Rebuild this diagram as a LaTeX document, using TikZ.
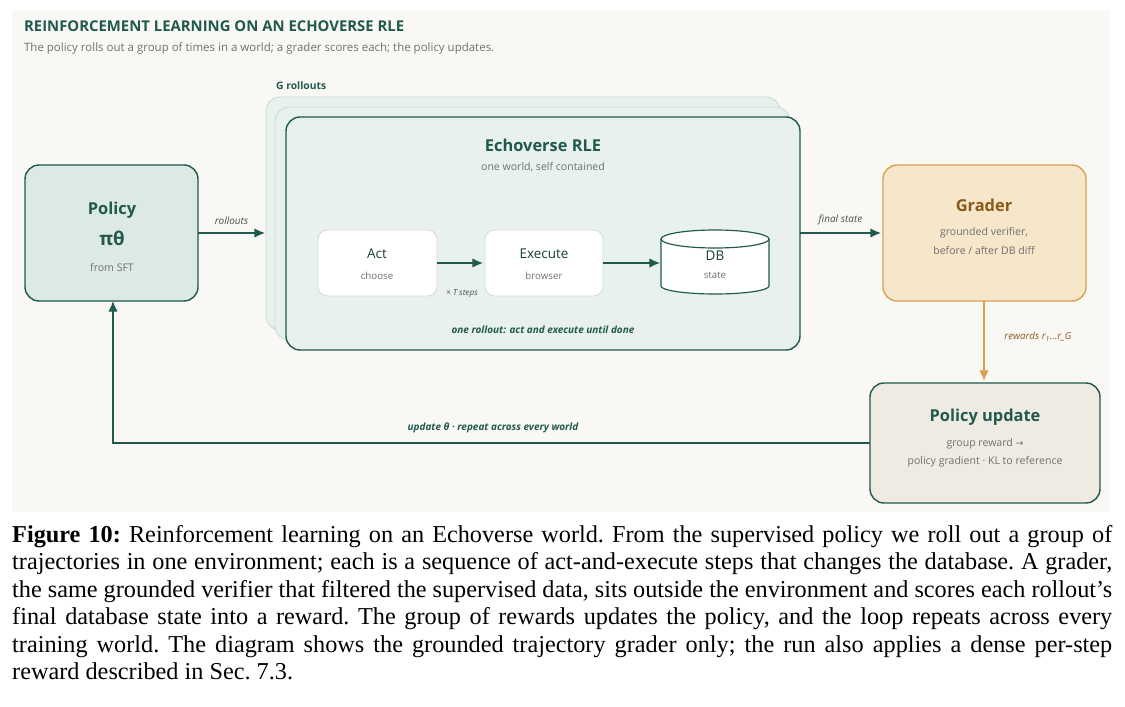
\documentclass[tikz,border=0pt]{standalone}
\usepackage{fontspec}
\setmainfont{Liberation Serif}
\newfontfamily\uifont{Open Sans}
\newfontfamily\symfont{DejaVu Sans}
\usetikzlibrary{arrows.meta}
\definecolor{pine}{HTML}{1F5A4C}
\definecolor{pinefill}{HTML}{DCE9E4}
\definecolor{rlefill}{HTML}{E8F1EE}
\definecolor{rleedge}{HTML}{C7DCD5}
\definecolor{amber}{HTML}{D9A050}
\definecolor{amberfill}{HTML}{F6E6CA}
\definecolor{amberdark}{HTML}{8A5A1A}
\definecolor{paper}{HTML}{F9F8F5}
\definecolor{stone}{HTML}{EFEBE3}
\definecolor{mute}{HTML}{707070}
\tikzset{
  box/.style={draw=pine,line width=1.2pt,rounded corners=12pt},
  stepbox/.style={draw=black!15,fill=white,rounded corners=8pt,line width=0.8pt},
  head/.style={font=\uifont\bfseries\fontsize{14}{16}\selectfont,text=pine},
  sub/.style={font=\uifont\fontsize{9}{11}\selectfont,text=mute},
  inner/.style={font=\uifont\fontsize{11.5}{13}\selectfont,text=pine!70!black},
  tag/.style={font=\uifont\itshape\fontsize{8.5}{10}\selectfont,text=black!70},
  flow/.style={-{Latex[length=9pt,width=8pt]},line width=1.2pt,draw=pine},
}
\begin{document}
\begin{tikzpicture}[x=0.03cm,y=-0.03cm]
  \useasboundingbox (0,0) rectangle (1125,707);
  \fill[paper] (12,10) rectangle (1110,512);

  \node[anchor=west,font=\uifont\bfseries\fontsize{12.7}{14}\selectfont,text=pine] (title) at (20,26) {REINFORCEMENT LEARNING ON AN ECHOVERSE RLE};
  \node[anchor=west,font=\uifont\fontsize{9.8}{11}\selectfont,text=mute] (subtitle) at (20,48) {The policy rolls out a group of times in a world; a grader scores each; the policy updates.};

  % policy
  \draw[box,fill=pinefill] (25,165) rectangle (198,301);
  \node[head] (pol) at (112,210) {Policy};
  \node[head,font=\uifont\bfseries\fontsize{16}{18}\selectfont] (pth) at (112,238) {πθ};
  \node[sub] (psft) at (112,268) {from SFT};
  \coordinate (polE) at (198,233);
  \coordinate (polS) at (113,301);

  % rollouts stack
  \node[anchor=west,font=\uifont\bfseries\fontsize{8.8}{10}\selectfont,text=pine] (grl) at (272,86) {G rollouts};
  \draw[rleedge,fill=rlefill,rounded corners=12pt,line width=0.8pt] (266,97) rectangle (780,330);
  \draw[rleedge,fill=rlefill,rounded corners=12pt,line width=0.8pt] (275,107) rectangle (790,340);
  \draw[box,fill=rlefill] (286,117) rectangle (800,350);
  \node[head] (rle) at (543,145) {Echoverse RLE};
  \node[sub] (rlesub) at (543,167) {one world, self contained};
  \coordinate (rleW) at (265,233);
  \coordinate (rleE) at (800,233);

  \draw[stepbox] (318,230) rectangle (437,296);
  \node[inner] (act) at (377,254) {Act};
  \node[sub,font=\uifont\fontsize{8.3}{10}\selectfont] (actsub) at (377,276) {choose};
  \draw[stepbox] (485,230) rectangle (603,296);
  \node[inner] (exe) at (544,254) {Execute};
  \node[sub,font=\uifont\fontsize{8.3}{10}\selectfont] (exesub) at (544,276) {browser};
  % database drum
  \fill[white] (661,239) -- (661,286) arc[start angle=180,end angle=360,x radius=54,y radius=-8] -- (769,239) -- cycle;
  \draw[pine,line width=1pt,fill=white] (715,239) ellipse[x radius=54,y radius=9];
  \draw[pine,line width=1pt] (661,239) -- (661,286) arc[start angle=180,end angle=360,x radius=54,y radius=-8] -- (769,239);
  \node[inner] (db) at (715,256) {DB};
  \node[sub,font=\uifont\fontsize{8.3}{10}\selectfont] (dbsub) at (715,275) {state};
  \coordinate (dbW) at (660,263);
  \coordinate (actE) at (437,263);
  \coordinate (exeW) at (483,263);
  \coordinate (exeE) at (603,263);
  \draw[flow] (actE) -- (exeW);
  \draw[flow] (exeE) -- (dbW);
  \node[tag,font=\uifont\itshape\fontsize{7}{8}\selectfont] (tsteps) at (462,294) {× T steps};
  \node[tag,font=\uifont\bfseries\itshape\fontsize{8.5}{10}\selectfont,text=pine] (one) at (543,330) {one rollout: act and execute until done};

  % grader
  \draw[draw=amber,fill=amberfill,line width=1.2pt,rounded corners=12pt] (883,165) rectangle (1086,301);
  \node[head,text=amberdark] (grd) at (984,205) {Grader};
  \node[sub] (grdsub) at (984,233) {grounded verifier,};
  \node[sub] (grdsub2) at (984,251) {before / after DB diff};
  \coordinate (grdW) at (881,233);
  \coordinate (grdS) at (984,301);

  % update
  \draw[box,fill=stone] (870,383) rectangle (1100,503);
  \node[head] (upd) at (985,417) {Policy update};
  \node[sub] (updsub) at (985,444) {group reward {\symfont\fontsize{8}{10}\selectfont →}};
  \node[sub] (updsub2) at (985,462) {policy gradient · KL to reference};
  \coordinate (updN) at (984,381);
  \coordinate (updW) at (870,443);
  \coordinate (turn) at (113,443);

  \draw[flow] (polE) -- node[tag,above=3pt] (lroll) {rollouts} (rleW);
  \draw[flow] (rleE) -- node[tag,above=3pt] (lfin) {final state} (grdW);
  \draw[flow,draw=amber] (grdS) -- (updN);
  \node[tag,font=\uifont\itshape\fontsize{8.3}{10}\selectfont,text=amberdark] (lrew) at (1038,337) {rewards r\textsubscript{1}...r\_G};
  \draw[flow] (updW) -- (turn) -- (polS);
  \node[tag,font=\uifont\bfseries\itshape\fontsize{8.5}{10}\selectfont,text=pine] (lupd) at (493,428) {update θ · repeat across every world};

  % caption
  \node[anchor=north west,text width=1100*0.03cm,align=justify,inner sep=0pt] (cap) at (12,525)
  {\fontsize{20.7}{23.5pt}\selectfont\baselineskip=23.5pt\frenchspacing\textbf{Figure 10:} Reinforcement learning on an Echoverse world. From the supervised policy we roll out a group of trajectories in one environment; each is a sequence of act-and-execute steps that changes the database. A grader, the same grounded verifier that filtered the supervised data, sits outside the environment and scores each rollout's final database state into a reward. The group of rewards updates the policy, and the loop repeats across every training world. The diagram shows the grounded trajectory grader only; the run also applies a dense per-step reward described in Sec.~7.3.\par};
\end{tikzpicture}
\end{document}
